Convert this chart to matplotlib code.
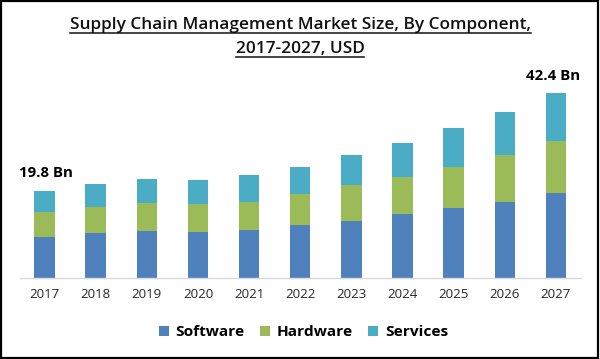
import matplotlib.pyplot as plt
from matplotlib.lines import Line2D
from matplotlib.patches import Rectangle
import numpy as np

# Values (USD Bn)
years = ['2017', '2018', '2019', '2020', '2021', '2022', '2023', '2024', '2025', '2026', '2027']
software = [9.30, 10.23, 10.75, 10.46, 10.91, 12.06, 13.11, 14.58, 15.95, 17.46, 19.38]
hardware = [5.75, 6.09, 6.34, 6.41, 6.54, 7.23, 8.10, 8.60, 9.52, 10.75, 12.04]
services = [4.75, 5.13, 5.49, 5.49, 6.04, 6.18, 7.00, 7.78, 8.92, 9.84, 10.98]
labels = ['Software', 'Hardware', 'Services']
colors = ['#4f81bd', '#9bbb59', '#4bacc6']
first_label = '19.8 Bn'
last_label = '42.4 Bn'

W, H = 600, 359
fig = plt.figure(figsize=(W / 100, H / 100), dpi=100)
fig.patch.set_facecolor('white')

# axes placed in pixel terms
left, right, bottom, top = 19.5, 581.5, 278, 80
ax = fig.add_axes([left / W, 1 - bottom / H, (right - left) / W, (bottom - top) / H])

x = np.arange(len(years))
sw = np.array(software)
hw = np.array(hardware)
sv = np.array(services)
ax.bar(x, sw, width=0.4, color=colors[0], label=labels[0])
ax.bar(x, hw, width=0.4, bottom=sw, color=colors[1], label=labels[1])
ax.bar(x, sv, width=0.4, bottom=sw + hw, color=colors[2], label=labels[2])

ax.set_xlim(-0.49, 10.5)
ax.set_ylim(0, 198 * 42.4 / 185.3)
for s in ['top', 'right', 'left']:
    ax.spines[s].set_visible(False)
ax.spines['bottom'].set_color('#d9d9d9')
ax.spines['bottom'].set_linewidth(1)
ax.set_yticks([])
ax.set_xticks(x)
ax.set_xticklabels(years, fontsize=9.5, color='#262626', family='Open Sans')
ax.tick_params(axis='x', length=0, pad=7)

totals = sw + hw + sv
ax.text(-0.5, totals[0] + 4.3, first_label, fontsize=10.8, fontweight='bold',
        ha='left', va='center', family='Open Sans')
ax.text(10.47, totals[-1] + 3.9, last_label, fontsize=10.8, fontweight='bold',
        ha='right', va='center', family='Open Sans')

# title, underlined
t1 = fig.text(0.5, 1 - 25 / H, 'Supply Chain Management Market Size, By Component,',
              ha='center', va='center', fontsize=12.4, fontweight='semibold',
              family='Open Sans', color='#111111')
t2 = fig.text(0.5, 1 - 49 / H, '2017-2027, USD',
              ha='center', va='center', fontsize=12.4, fontweight='semibold',
              family='Open Sans', color='#111111')

leg = fig.legend(loc='center', bbox_to_anchor=(0.506, 1 - 332.5 / H), ncol=3, frameon=False,
                 prop={'family': 'Open Sans', 'weight': 'bold', 'size': 11.1},
                 handlelength=0.62, handleheight=0.62, handletextpad=0.45, columnspacing=1.0)

fig.canvas.draw()
r = fig.canvas.get_renderer()
for t, uy in [(t1, 32.5), (t2, 56.5)]:
    bb = t.get_window_extent(r)
    fig.add_artist(Line2D([bb.x0 / W, bb.x1 / W], [1 - uy / H, 1 - uy / H],
                          color='#111111', lw=1.1, transform=fig.transFigure))

# outer border
fig.add_artist(Rectangle((0.002, 0.004), 0.994, 0.993, transform=fig.transFigure,
                         fill=False, edgecolor='black', lw=1.6))

fig.savefig('out.png', dpi=100)
